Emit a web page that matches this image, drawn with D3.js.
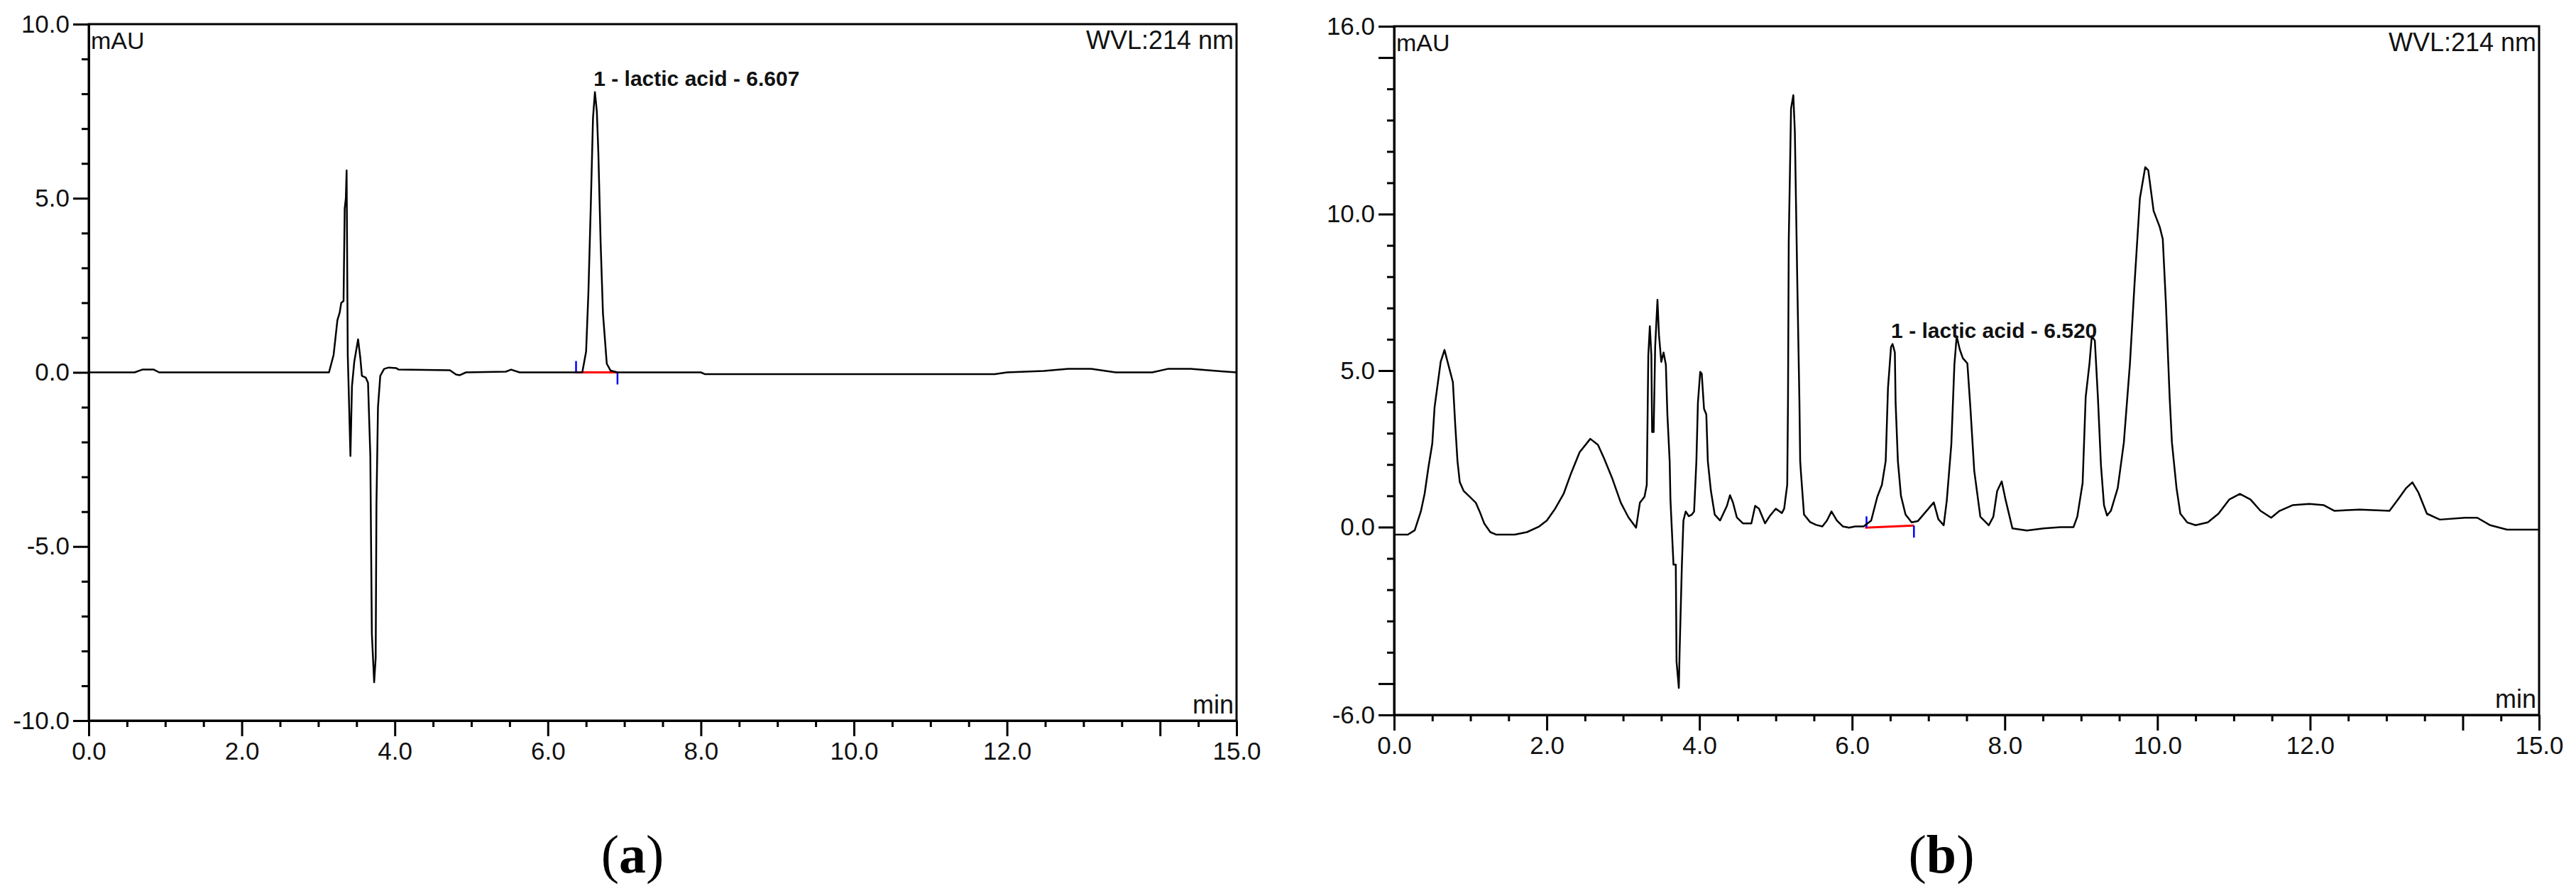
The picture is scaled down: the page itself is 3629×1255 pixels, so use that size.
<!DOCTYPE html>
<html>
<head>
<meta charset="utf-8">
<script src="https://cdn.jsdelivr.net/npm/d3@7"></script>
<style>
  html, body { margin: 0; padding: 0; background: #fff; }
  svg { display: block; font-family: "Liberation Sans", Arial, sans-serif; }
  .trace { fill: none; stroke: #000; stroke-width: 2.5; stroke-linejoin: round; }
  .frame { fill: none; stroke: #000; stroke-width: 3; }
  .axis path, .axis line { stroke: #000; stroke-width: 3; }
  .axis text { font-size: 35px; fill: #111; }
</style>
</head>
<body>
<svg id="chart" width="3629" height="1255"></svg>
<script>
// --- Chromatogram (a): [time min, absorbance mAU] ---
const traceA = [
  [0, 0], [0.60, 0], [0.70, 0.08], [0.85, 0.08], [0.92, 0], [3.14, 0],
  [3.20, 0.5], [3.25, 1.5], [3.28, 1.72], [3.30, 2.0], [3.33, 2.05], [3.345, 4.7],
  [3.36, 5.0], [3.37, 5.8], [3.385, 0.5], [3.395, -0.3], [3.42, -2.4], [3.44, -0.4],
  [3.47, 0.3], [3.52, 0.95], [3.55, 0.4], [3.57, -0.1], [3.62, -0.15], [3.65, -0.3],
  [3.68, -2.4], [3.70, -7.5], [3.73, -8.9], [3.75, -8.2], [3.76, -3.8], [3.78, -1.0],
  [3.81, -0.1], [3.86, 0.1], [3.92, 0.14], [4.02, 0.12], [4.05, 0.08], [4.72, 0.06],
  [4.80, -0.06], [4.85, -0.08], [4.93, 0], [5.45, 0.02], [5.52, 0.08], [5.63, 0],
  [6.45, 0], [6.50, 0.6], [6.53, 2.3], [6.56, 4.7], [6.59, 7.3], [6.615, 8.05],
  [6.64, 7.5], [6.66, 6.3], [6.69, 3.7], [6.72, 1.7], [6.77, 0.25], [6.82, 0.05],
  [6.91, 0], [8.0, 0], [8.05, -0.05], [11.84, -0.05], [12.0, 0], [12.48, 0.04],
  [12.8, 0.1], [13.1, 0.1], [13.42, 0], [13.9, 0], [14.1, 0.1], [14.4, 0.1],
  [14.8, 0.03], [15.0, 0]
];

// --- Chromatogram (b) ---
const traceB = [
  [0, -0.24], [0.18, -0.24], [0.27, -0.1], [0.35, 0.5], [0.40, 1.07], [0.45, 1.92],
  [0.50, 2.67], [0.53, 3.83], [0.61, 5.28], [0.66, 5.66], [0.71, 5.19], [0.77, 4.63],
  [0.80, 3.3], [0.83, 2.11], [0.86, 1.44], [0.91, 1.16], [0.99, 0.97], [1.07, 0.78],
  [1.12, 0.5], [1.18, 0.12], [1.26, -0.16], [1.34, -0.24], [1.58, -0.24], [1.74, -0.16],
  [1.90, 0.02], [2.00, 0.21], [2.11, 0.59], [2.22, 1.06], [2.32, 1.73], [2.43, 2.39],
  [2.57, 2.82], [2.67, 2.63], [2.75, 2.20], [2.86, 1.54], [2.97, 0.78], [3.07, 0.31],
  [3.17, -0.02], [3.22, 0.78], [3.28, 0.97], [3.31, 1.35], [3.33, 5.48], [3.35, 6.42],
  [3.37, 5.5], [3.38, 3.04], [3.40, 3.04], [3.42, 5.76], [3.45, 7.26], [3.47, 6.13],
  [3.50, 5.28], [3.53, 5.58], [3.56, 5.19], [3.58, 3.6], [3.61, 2.1], [3.62, 0.88],
  [3.66, -1.2], [3.69, -1.2], [3.70, -4.3], [3.73, -5.14], [3.74, -4.0], [3.77, -1.2],
  [3.79, 0.21], [3.82, 0.50], [3.86, 0.35], [3.90, 0.40], [3.93, 0.50], [3.96, 2.11],
  [3.98, 3.97], [4.01, 4.96], [4.03, 4.9], [4.06, 3.78], [4.09, 3.6], [4.11, 2.1],
  [4.15, 1.16], [4.20, 0.40], [4.27, 0.21], [4.36, 0.68], [4.40, 1.02], [4.44, 0.78],
  [4.49, 0.31], [4.57, 0.12], [4.68, 0.12], [4.73, 0.68], [4.78, 0.59], [4.86, 0.12],
  [4.92, 0.35], [5.00, 0.59], [5.08, 0.45], [5.11, 0.59], [5.15, 1.35], [5.16, 3.97],
  [5.17, 9.14], [5.20, 13.37], [5.23, 13.8], [5.25, 12.62], [5.28, 8.1], [5.31, 3.97],
  [5.32, 2.1], [5.33, 1.73], [5.37, 0.40], [5.45, 0.16], [5.53, 0.07], [5.61, 0.02],
  [5.67, 0.21], [5.73, 0.50], [5.80, 0.21], [5.88, 0.02], [5.96, -0.02], [6.04, 0.02],
  [6.15, 0.02], [6.25, 0.21], [6.33, 0.97], [6.39, 1.35], [6.44, 2.11], [6.47, 4.44],
  [6.51, 5.76], [6.53, 5.85], [6.56, 5.58], [6.57, 3.97], [6.60, 2.1], [6.64, 1.0],
  [6.70, 0.4], [6.78, 0.15], [6.86, 0.19], [7.07, 0.79], [7.13, 0.25], [7.20, 0.06],
  [7.24, 0.84], [7.30, 2.65], [7.34, 5.19], [7.37, 6.1], [7.41, 5.68], [7.45, 5.4],
  [7.51, 5.23], [7.55, 3.8], [7.60, 1.8], [7.68, 0.33], [7.79, 0.06], [7.85, 0.33],
  [7.90, 1.15], [7.96, 1.46], [8.01, 0.88], [8.10, -0.04], [8.29, -0.11], [8.51, -0.04],
  [8.73, 0.0], [8.90, 0.0], [8.95, 0.33], [9.02, 1.41], [9.06, 4.15], [9.11, 5.23],
  [9.14, 6.1], [9.18, 5.96], [9.22, 4.15], [9.26, 1.98], [9.30, 0.7], [9.34, 0.37],
  [9.39, 0.52], [9.48, 1.25], [9.56, 2.7], [9.64, 5.23], [9.70, 7.77], [9.77, 10.5],
  [9.84, 11.5], [9.88, 11.4], [9.95, 10.1], [10.03, 9.59], [10.07, 9.2], [10.11, 7.2],
  [10.16, 4.15], [10.19, 2.7], [10.25, 1.25], [10.30, 0.43], [10.39, 0.15], [10.50, 0.06],
  [10.66, 0.15], [10.80, 0.43], [10.94, 0.88], [11.08, 1.06], [11.22, 0.88], [11.35, 0.52],
  [11.49, 0.3], [11.60, 0.52], [11.77, 0.7], [11.99, 0.74], [12.18, 0.7], [12.32, 0.52],
  [12.65, 0.56], [13.04, 0.52], [13.15, 0.88], [13.26, 1.25], [13.34, 1.43], [13.42, 1.1],
  [13.53, 0.43], [13.70, 0.24], [14.03, 0.3], [14.19, 0.3], [14.36, 0.06], [14.58, -0.08],
  [15.0, -0.08]
];

// integration baselines (red) for the lactic acid peak
const baselineA = [[6.35, 0], [6.91, 0]];
const baselineB = [[6.17, -0.02], [6.81, 0.05]];

// peak labels
const peakA = { label: "1 - lactic acid - 6.607", rt: 6.607 };
const peakB = { label: "1 - lactic acid - 6.520", rt: 6.520 };

// axis domains and ticks
const xDomain = [0, 15];
const xMajor = [0, 2, 4, 6, 8, 10, 12, 14, 15];
const xLabeled = [0, 2, 4, 6, 8, 10, 12, 15];
const yDomainA = [-10, 10];
const yMajorA = [-10, -5, 0, 5, 10];
const yLabeledA = [-10, -5, 0, 5, 10];
const yDomainB = [-6, 16];
const yMajorB = [-6, -5, 0, 5, 10, 15, 16];
const yLabeledB = [-6, 0, 5, 10, 16];

const svg = d3.select("#chart");

function drawPanel(cfg) {
  const x = d3.scaleLinear().domain(xDomain).range([cfg.left, cfg.right]);
  const y = d3.scaleLinear().domain(cfg.yDomain).range([cfg.bottom, cfg.top]);
  const g = svg.append("g");

  // minor ticks first (no labels)
  const xMinor = d3.range(xDomain[0], xDomain[1] + 0.001, 0.5).filter(v => !cfg.xMajor.includes(v));
  const yMinor = d3.range(cfg.yDomain[0], cfg.yDomain[1] + 0.001, 1).filter(v => !cfg.yMajor.includes(v));

  g.append("g").attr("class", "axis")
    .attr("transform", `translate(0,${cfg.bottom})`)
    .call(d3.axisBottom(x).tickValues(xMinor).tickSize(9).tickSizeOuter(0).tickFormat(""));
  g.append("g").attr("class", "axis")
    .attr("transform", `translate(${cfg.left},0)`)
    .call(d3.axisLeft(y).tickValues(yMinor).tickSize(10).tickSizeOuter(0).tickFormat(""));

  // major ticks with labels
  g.append("g").attr("class", "axis")
    .attr("transform", `translate(0,${cfg.bottom})`)
    .call(d3.axisBottom(x).tickValues(cfg.xMajor).tickSize(22).tickSizeOuter(0).tickPadding(8)
      .tickFormat(d => cfg.xLabeled.includes(d) ? d.toFixed(1) : ""));
  g.append("g").attr("class", "axis")
    .attr("transform", `translate(${cfg.left},0)`)
    .call(d3.axisLeft(y).tickValues(cfg.yMajor).tickSize(22).tickSizeOuter(0).tickPadding(5)
      .tickFormat(d => cfg.yLabeled.includes(d) ? d.toFixed(1) : ""));

  // frame around plot area
  g.append("rect").attr("class", "frame")
    .attr("x", cfg.left).attr("y", cfg.top)
    .attr("width", cfg.right - cfg.left).attr("height", cfg.bottom - cfg.top);

  // red integration baseline + blue delimiters
  const bl = cfg.baseline;
  g.append("line")
    .attr("x1", x(bl[0][0])).attr("y1", y(bl[0][1]))
    .attr("x2", x(bl[1][0])).attr("y2", y(bl[1][1]))
    .attr("stroke", "#ff0000").attr("stroke-width", 3);
  g.append("line")
    .attr("x1", x(bl[0][0]) + 2).attr("x2", x(bl[0][0]) + 2)
    .attr("y1", y(bl[0][1])).attr("y2", y(bl[0][1]) - 16)
    .attr("stroke", "#0000ff").attr("stroke-width", 2.5);
  g.append("line")
    .attr("x1", x(bl[1][0])).attr("x2", x(bl[1][0]))
    .attr("y1", y(bl[1][1])).attr("y2", y(bl[1][1]) + 17)
    .attr("stroke", "#0000ff").attr("stroke-width", 2.5);

  // chromatogram trace
  const line = d3.line().x(d => x(d[0])).y(d => y(d[1]));
  g.append("path").datum(cfg.trace).attr("class", "trace").attr("d", line);

  // peak label just above apex
  const apex = d3.max(cfg.trace.filter(d => Math.abs(d[0] - cfg.peak.rt) < 0.15), d => d[1]);
  g.append("text")
    .attr("x", x(cfg.peak.rt) - 1)
    .attr("y", y(apex) - 9)
    .attr("font-size", 30).attr("font-weight", "bold").attr("fill", "#111")
    .text(cfg.peak.label);

  // corner annotations
  g.append("text").attr("x", cfg.left + 3).attr("y", cfg.top + 35)
    .attr("font-size", 34).attr("fill", "#111").text("mAU");
  g.append("text").attr("x", cfg.right - 4).attr("y", cfg.top + 35)
    .attr("text-anchor", "end").attr("font-size", 36).attr("fill", "#111").text("WVL:214 nm");
  g.append("text").attr("x", cfg.right - 4).attr("y", cfg.bottom - 10)
    .attr("text-anchor", "end").attr("font-size", 36).attr("fill", "#111").text("min");

  // caption under the panel
  const cap = g.append("text").attr("x", cfg.captionX).attr("y", 1229)
    .attr("text-anchor", "middle").attr("font-family", "'Liberation Serif', 'Times New Roman', serif")
    .attr("font-size", 76).attr("fill", "#000");
  cap.append("tspan").text("(");
  cap.append("tspan").attr("font-weight", "bold").text(cfg.caption);
  cap.append("tspan").text(")");
}

drawPanel({
  left: 125, right: 1742, top: 34, bottom: 1015,
  yDomain: yDomainA, yMajor: yMajorA, yLabeled: yLabeledA,
  xMajor: xMajor, xLabeled: xLabeled,
  trace: traceA, baseline: baselineA, peak: peakA,
  caption: "a", captionX: 891
});

drawPanel({
  left: 1964, right: 3577, top: 37, bottom: 1007,
  yDomain: yDomainB, yMajor: yMajorB, yLabeled: yLabeledB,
  xMajor: xMajor, xLabeled: xLabeled,
  trace: traceB, baseline: baselineB, peak: peakB,
  caption: "b", captionX: 2735
});
</script>
</body>
</html>
